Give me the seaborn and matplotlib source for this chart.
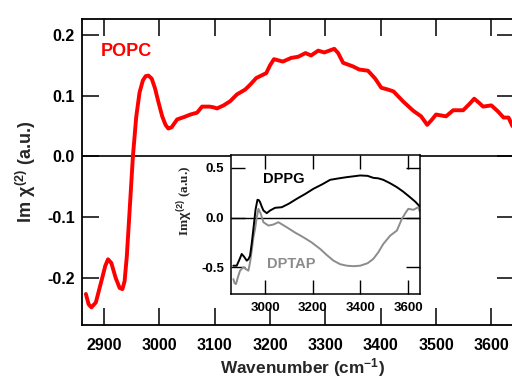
import numpy as np
import pandas as pd
import matplotlib
matplotlib.use("Agg")
import matplotlib.pyplot as plt
import seaborn as sns

# ---------------- data ----------------
popc_wn = [2867, 2872, 2877, 2885, 2895, 2902, 2907, 2913, 2921, 2928, 2933, 2937,
           2941, 2946, 2952, 2958, 2964, 2970, 2975, 2980, 2986, 2992, 2998, 3005,
           3011, 3016, 3022, 3032, 3045, 3056, 3068, 3077, 3090, 3097, 3104, 3116,
           3128, 3140, 3155, 3165, 3175, 3193, 3200, 3207, 3223, 3238, 3251, 3264,
           3274, 3287, 3298, 3316, 3323, 3332, 3350, 3361, 3377, 3390, 3401, 3413,
           3423, 3441, 3459, 3473, 3484, 3492, 3500, 3518, 3531, 3549, 3560, 3569,
           3578, 3585, 3600, 3612, 3622, 3631, 3638]
popc_val = [-0.226, -0.243, -0.248, -0.240, -0.205, -0.180, -0.169, -0.175, -0.200,
            -0.216, -0.218, -0.205, -0.164, -0.090, 0.000, 0.065, 0.105, 0.125,
            0.132, 0.133, 0.128, 0.112, 0.090, 0.066, 0.052, 0.046, 0.048, 0.061,
            0.065, 0.069, 0.072, 0.082, 0.082, 0.081, 0.079, 0.084, 0.091, 0.102,
            0.110, 0.119, 0.129, 0.137, 0.150, 0.160, 0.156, 0.162, 0.164, 0.170,
            0.166, 0.174, 0.171, 0.177, 0.170, 0.154, 0.148, 0.143, 0.141, 0.128,
            0.113, 0.110, 0.107, 0.090, 0.075, 0.066, 0.052, 0.060, 0.069, 0.066,
            0.076, 0.076, 0.086, 0.095, 0.088, 0.082, 0.084, 0.074, 0.064, 0.064,
            0.050]

dppg_wn = [2867, 2881, 2893, 2902, 2912, 2923, 2930, 2937, 2944, 2951, 2960, 2968,
           2974, 2979, 2986, 2993, 3007, 3021, 3042, 3070, 3100, 3133, 3170, 3203,
           3240, 3273, 3310, 3343, 3370, 3399, 3430, 3454, 3475, 3496, 3525, 3553,
           3580, 3608, 3630, 3650]
dppg_val = [-0.485, -0.485, -0.420, -0.367, -0.395, -0.434, -0.420, -0.384, -0.260,
            -0.114, 0.080, 0.179, 0.175, 0.155, 0.110, 0.071, 0.044, 0.071, 0.098,
            0.104, 0.140, 0.189, 0.240, 0.290, 0.335, 0.380, 0.395, 0.407, 0.415,
            0.424, 0.420, 0.400, 0.395, 0.380, 0.345, 0.306, 0.260, 0.205, 0.160,
            0.110]

dptap_wn = [2867, 2872, 2878, 2886, 2895, 2909, 2920, 2930, 2937, 2944, 2951, 2958,
            2965, 2972, 2982, 2993, 3014, 3035, 3056, 3091, 3125, 3161, 3195, 3231,
            3260, 3287, 3315, 3343, 3370, 3399, 3430, 3454, 3475, 3496, 3525, 3553,
            3574, 3590, 3601, 3622, 3643, 3650]
dptap_val = [-0.620, -0.660, -0.670, -0.600, -0.535, -0.500, -0.520, -0.535, -0.450,
             -0.333, -0.200, -0.114, 0.000, 0.088, 0.037, -0.047, -0.081, -0.070,
             -0.047, -0.098, -0.150, -0.199, -0.250, -0.316, -0.380, -0.434, -0.470,
             -0.485, -0.490, -0.485, -0.460, -0.417, -0.350, -0.266, -0.182, -0.131,
             -0.013, 0.050, 0.088, 0.078, 0.104, 0.054]

main_xticks = [2900, 3000, 3100, 3200, 3300, 3400, 3500, 3600]
main_yticks = [-0.2, -0.1, 0.0, 0.1, 0.2]
main_yticklabels = ["-0.2", "-0.1", "0.0", "0.1", "0.2"]
inset_xticks = [3000, 3200, 3400, 3600]
inset_yticks = [-0.5, 0.0, 0.5]
inset_yticklabels = ["-0.5", "0.0", "0.5"]

# ---------------- style ----------------
sns.set_theme(style="ticks")
plt.rcParams["font.family"] = ["Liberation Sans", "DejaVu Sans"]
plt.rcParams["font.weight"] = "bold"
plt.rcParams["axes.unicode_minus"] = False
plt.rcParams["mathtext.fontset"] = "custom"
plt.rcParams["mathtext.rm"] = "Liberation Sans:bold"
plt.rcParams["mathtext.it"] = "Liberation Sans:bold"
plt.rcParams["mathtext.bf"] = "Liberation Sans:bold"

fig = plt.figure(figsize=(5.12, 3.8), dpi=100)

# main axes
ax = fig.add_axes([82 / 512, 1 - 325 / 380, (513.5 - 82) / 512, (325 - 19) / 380])
df_popc = pd.DataFrame({"wn": popc_wn, "val": popc_val})
sns.lineplot(data=df_popc, x="wn", y="val", ax=ax, color="#ff0000", lw=2.8,
             sort=False, estimator=None)
ax.axhline(0, color="black", lw=1.2, zorder=1)
ax.set_xlim(2860, 3640)
ax.set_ylim(-0.277, 0.226)
ax.set_xticks(main_xticks)
ax.set_xticklabels([str(t) for t in main_xticks])
ax.set_yticks(main_yticks)
ax.set_yticklabels(main_yticklabels)
ax.tick_params(axis="both", which="major", direction="in", length=12, width=1.1,
               labelsize=11.5, color="black", labelcolor="black",
               top=True, right=True)
ax.tick_params(axis="x", pad=9)
ax.tick_params(axis="y", pad=5)
for sp in ax.spines.values():
    sp.set_linewidth(1.3)
    sp.set_color("black")
for lab in ax.get_xticklabels() + ax.get_yticklabels():
    lab.set_fontweight("bold")
ax.set_xlabel(r"Wavenumber (cm$^{-1}$)", fontsize=12.4, fontweight="bold")
ax.xaxis.set_label_coords((303 - 82) / 431.5, (325 - 356) / 306)
ax.xaxis.label.set_va("top")
ax.set_ylabel(r"Im $\chi^{(2)}$ (a.u.)", fontsize=13, fontweight="bold")
ax.yaxis.set_label_coords((38 - 82) / 431.5, (325 - 171.5) / 306)
ax.text(2894, 0.172, "POPC", color="#ff0000", fontsize=13, fontweight="bold",
        ha="left", va="center")

# inset axes
ins = fig.add_axes([231 / 512, 1 - 294 / 380, (420 - 231) / 512, (294 - 155) / 380])
ins.set_facecolor("white")
df_dppg = pd.DataFrame({"wn": dppg_wn, "val": dppg_val})
df_dptap = pd.DataFrame({"wn": dptap_wn, "val": dptap_val})
sns.lineplot(data=df_dptap, x="wn", y="val", ax=ins, color="#8c8c8c", lw=1.4,
             sort=False, estimator=None)
sns.lineplot(data=df_dppg, x="wn", y="val", ax=ins, color="black", lw=1.4,
             sort=False, estimator=None)
ins.axhline(0, color="black", lw=1.0, zorder=1)
ins.set_xlim(2857, 3650)
ins.set_ylim(-0.77, 0.63)
ins.set_xticks(inset_xticks)
ins.set_xticklabels([str(t) for t in inset_xticks])
ins.set_yticks(inset_yticks)
ins.set_yticklabels(inset_yticklabels)
ins.tick_params(axis="both", which="major", direction="in", length=10, width=1.0,
                labelsize=9.5, color="black", labelcolor="black",
                top=True, right=True)
ins.tick_params(axis="x", pad=6)
ins.tick_params(axis="y", pad=5)
for sp in ins.spines.values():
    sp.set_linewidth(1.1)
    sp.set_color("black")
for lab in ins.get_xticklabels() + ins.get_yticklabels():
    lab.set_fontweight("bold")
ins.set_xlabel("")
ins.set_ylabel(r"Im$\chi^{(2)}$ (a.u.)", fontsize=9.5,
               family=["Liberation Serif", "DejaVu Serif"], fontweight="bold")
ins.yaxis.set_label_coords((195 - 231) / 189, (294 - 201) / 139)
ins.text(2992, 0.384, "DPPG", color="black", fontsize=10.5, fontweight="bold",
         ha="left", va="center")
ins.text(3008, -0.465, "DPTAP", color="#8c8c8c", fontsize=10.5, fontweight="bold",
         ha="left", va="center")

fig.savefig("out.png", dpi=100)
